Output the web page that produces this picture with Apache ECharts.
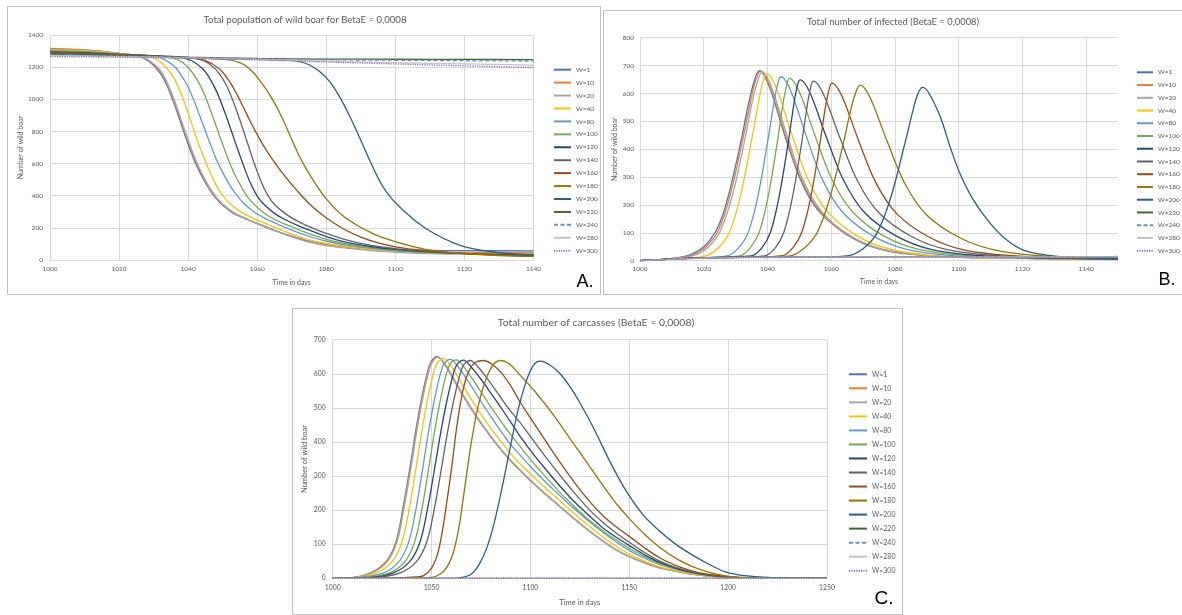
<!DOCTYPE html>
<html><head><meta charset="utf-8">
<script src="https://cdn.jsdelivr.net/npm/echarts@6/dist/echarts.min.js"></script>
<style>html,body{margin:0;padding:0;background:#fff}#c{width:1182px;height:615px}</style>
</head><body><div id="c"></div>
<script>
// ---------- categories / labels ----------
const seriesNames = ['W=1','W=10','W=20','W=40','W=80','W=100','W=120','W=140','W=160','W=180','W=200','W=220','W=240','W=280','W=300'];
const titleA = 'Total population of wild boar for BetaE = 0,0008';
const titleB = 'Total number of infected (BetaE = 0,0008)';
const titleC = 'Total number of carcasses (BetaE = 0,0008)';
const xName = 'Time in days';
const yName = 'Number of wild boar';

// ---------- Panel A: total population ----------
const popW1 = [[1000,1312],[1010,1306],[1020,1285],[1026,1265],[1029,1230],[1032,1160],[1034,1080],[1036,970],[1038,845],[1040,720],[1042,610],[1044,520],[1046,445],[1048,385],[1050,340],[1053,292],[1056,262],[1060,228],[1065,185],[1070,148],[1075,118],[1080,98],[1090,76],[1100,64],[1110,60],[1120,58],[1140,57]];
const popW10 = [[1000,1316],[1010,1307],[1020,1286],[1026,1266],[1029,1235],[1032,1170],[1034,1092],[1036,985],[1038,860],[1040,735],[1042,622],[1044,530],[1046,452],[1048,390],[1050,344],[1053,295],[1056,263],[1060,226],[1065,182],[1070,145],[1075,114],[1080,94],[1090,70],[1100,56],[1110,50],[1120,48],[1140,47]];
const popW20 = [[1000,1309],[1010,1302],[1020,1284],[1026,1266],[1029,1238],[1032,1178],[1034,1100],[1036,995],[1038,872],[1040,748],[1042,632],[1044,538],[1046,458],[1048,395],[1050,348],[1053,298],[1056,265],[1060,228],[1065,183],[1070,144],[1075,112],[1080,90],[1090,64],[1100,48],[1110,40],[1120,36],[1140,34]];
const popW40 = [[1000,1306],[1010,1301],[1020,1284],[1029,1262],[1032,1232],[1035,1162],[1037,1085],[1039,975],[1041,850],[1043,725],[1045,615],[1047,515],[1049,432],[1051,376],[1053,335],[1056,290],[1059,258],[1063,222],[1068,178],[1073,140],[1078,111],[1083,91],[1093,67],[1103,52],[1113,44],[1125,40],[1140,38]];
const popW80 = [[1000,1301],[1010,1297],[1020,1283],[1030,1268],[1033,1248],[1036,1205],[1038,1150],[1040,1075],[1042,975],[1044,860],[1046,745],[1048,635],[1050,545],[1052,468],[1054,405],[1056,355],[1059,300],[1062,262],[1066,222],[1071,178],[1076,140],[1081,112],[1086,92],[1095,68],[1105,50],[1120,40],[1140,36]];
const popW100 = [[1000,1298],[1010,1293],[1020,1281],[1030,1270],[1035,1258],[1038,1235],[1040.5,1185],[1042.5,1125],[1044.5,1040],[1046.5,930],[1048.5,810],[1050.5,690],[1052.5,580],[1054.5,490],[1056.5,415],[1058.5,360],[1061.5,300],[1064.5,258],[1069,215],[1074,172],[1079,135],[1084,108],[1090,86],[1100,62],[1110,48],[1125,38],[1140,34]];
const popW120 = [[1000,1295],[1010,1290],[1020,1280],[1030,1271],[1038,1258],[1041,1240],[1044,1195],[1046,1140],[1048,1060],[1050,955],[1052,835],[1054,710],[1056,590],[1058,480],[1060,398],[1062,345],[1065,290],[1068,252],[1072,212],[1077,170],[1082,132],[1087,105],[1093,84],[1100,66],[1110,50],[1125,36],[1140,30]];
const popW140 = [[1000,1290],[1010,1286],[1020,1278],[1030,1270],[1040,1260],[1044,1245],[1047,1205],[1049,1160],[1051,1090],[1053,990],[1055,870],[1057,740],[1059,610],[1061,495],[1063,405],[1065,345],[1068,290],[1071,250],[1075,208],[1080,165],[1085,130],[1090,104],[1096,82],[1105,60],[1115,45],[1130,32],[1140,28]];
const popW160 = [[1000,1288],[1010,1283],[1020,1276],[1030,1268],[1040,1258],[1045,1240],[1049,1190],[1052,1110],[1054,1035],[1056,950],[1058,862],[1060,780],[1062,705],[1064,638],[1066,578],[1068,522],[1070,470],[1072,420],[1075,352],[1078,295],[1081,247],[1085,193],[1090,142],[1095,106],[1100,82],[1108,60],[1120,40],[1140,25]];
const popW180 = [[1000,1285],[1010,1280],[1020,1274],[1030,1266],[1040,1258],[1050,1250],[1055,1228],[1058,1185],[1061,1110],[1064,1015],[1067,895],[1070,750],[1072,655],[1074,575],[1077,470],[1080,380],[1084,290],[1089,215],[1094,160],[1099,120],[1104,90],[1110,62],[1120,40],[1130,28],[1140,22]];
const popW200 = [[1000,1282],[1010,1278],[1020,1272],[1030,1265],[1040,1258],[1050,1252],[1060,1248],[1068,1244],[1072,1236],[1075,1215],[1078,1175],[1081,1110],[1084,1010],[1087,885],[1090,745],[1093,600],[1096,470],[1099,380],[1102,315],[1106,240],[1111,168],[1117,105],[1122,72],[1130,45],[1140,30]];
const popW220 = [[1000,1280],[1020,1272],[1040,1262],[1060,1254],[1080,1250],[1100,1249],[1120,1248],[1140,1247]];
const popW240 = [[1000,1277],[1020,1268],[1040,1260],[1060,1252],[1080,1246],[1100,1243],[1120,1240],[1140,1238]];
const popW280 = [[1000,1272],[1020,1265],[1040,1258],[1060,1248],[1080,1238],[1100,1228],[1120,1220],[1140,1213]];
const popW300 = [[1000,1265],[1020,1262],[1040,1255],[1060,1245],[1080,1232],[1100,1220],[1120,1208],[1140,1197]];

// ---------- Panel B: infected ----------
const infW1 = [[1000,0],[1008,5],[1015,18],[1018,34],[1020,50],[1022,75],[1024,110],[1026,165],[1028,245],[1030,340],[1032,445],[1034,560],[1036,650],[1037.5,682],[1039,665],[1041,612],[1043,540],[1045,465],[1047,395],[1050,300],[1053,230],[1056,180],[1060,135],[1065,92],[1070,62],[1075,42],[1080,30],[1090,18],[1100,12],[1120,8],[1150,5]];
const infW10 = [[1000,0],[1008,5],[1015.8,18],[1020.7,50],[1024.6,109],[1028.5,244],[1032.4,443],[1034.9,581],[1036.3,648],[1037.8,680],[1039.3,663],[1041.3,610],[1045.3,464],[1050.3,299],[1056.3,180],[1065.3,92],[1075.3,42],[1090.3,18],[1110,10],[1150,5]];
const infW20 = [[1000,0],[1008,4],[1016.7,18],[1021.5,49],[1025.3,109],[1029.2,243],[1033.0,441],[1035.4,579],[1036.9,645],[1038.3,677],[1039.8,660],[1041.8,607],[1045.8,462],[1050.8,298],[1056.8,179],[1065.8,91],[1075.8,42],[1090.8,18],[1110,10],[1150,5]];
const infW40 = [[1000,0],[1010,6],[1015,10],[1020.7,17],[1024.9,49],[1028.3,108],[1031.7,241],[1035.1,437],[1037.3,574],[1038.5,639],[1039.8,671],[1041.3,654],[1043.4,602],[1047.5,458],[1052.6,295],[1058.7,177],[1067.9,91],[1078.1,42],[1093.4,17],[1110,10],[1150,5]];
const infW80 = [[1000,0],[1010,6],[1020,11],[1027.3,17],[1031.1,48],[1034.1,106],[1037.1,237],[1040.1,430],[1042.0,564],[1043.1,629],[1044.2,660],[1045.8,644],[1047.9,592],[1052.1,450],[1057.3,290],[1063.6,174],[1073.1,89],[1083.6,41],[1099.3,17],[1115,10],[1150,6]];
const infW100 = [[1000,0],[1010,6],[1020,10],[1026,13],[1031.2,17],[1034.7,48],[1037.5,105],[1040.3,235],[1043.1,426],[1044.8,559],[1045.9,623],[1046.9,654],[1048.5,638],[1050.7,587],[1055.0,446],[1060.4,288],[1066.9,173],[1076.6,88],[1087.4,41],[1103.6,17],[1120,10],[1150,6]];
const infW120 = [[1000,0],[1010,6],[1020,10],[1028,13],[1034.9,17],[1038.3,47],[1041.0,104],[1043.7,233],[1046.5,423],[1048.2,555],[1049.2,618],[1050.2,649],[1051.9,633],[1054.1,582],[1058.5,443],[1064.0,286],[1070.6,171],[1080.5,88],[1091.5,40],[1108.0,17],[1125,10],[1150,6]];
const infW140 = [[1000,0],[1010,6],[1020,10],[1032,13],[1039.1,17],[1042.5,47],[1045.2,104],[1047.9,231],[1050.7,420],[1052.4,551],[1053.4,614],[1054.4,644],[1056.1,628],[1058.3,578],[1062.8,439],[1068.4,283],[1075.1,170],[1085.2,87],[1096.4,40],[1113.2,17],[1130,10],[1150,7]];
const infW160 = [[1000,0],[1010,6],[1020,10],[1035,13],[1044.5,17],[1048.0,47],[1050.8,103],[1053.6,229],[1056.4,415],[1058.1,545],[1059.2,607],[1060.2,637],[1061.9,621],[1064.1,571],[1068.5,434],[1074.0,280],[1080.6,168],[1090.5,86],[1101.5,39],[1118.0,17],[1135,10],[1150,8]];
const infW180 = [[1000,0],[1010,6],[1020,10],[1035,13],[1046.6,16],[1051.6,46],[1055.6,101],[1059.6,226],[1063.6,411],[1066.1,539],[1067.6,600],[1069.1,630],[1070.8,614],[1073.0,565],[1077.5,430],[1083.1,277],[1089.8,166],[1099.9,85],[1111.1,39],[1127.9,16],[1150,10]];
const infW200 = [[1000,0],[1010,6],[1020,10],[1040,13],[1060,14],[1065.0,17],[1070.2,45],[1074.4,100],[1078.6,223],[1082.8,406],[1085.5,532],[1087.0,593],[1088.6,622],[1090.4,606],[1094.2,517],[1097.3,409],[1100.4,313],[1104.6,218],[1109.9,134],[1115.1,74],[1120.3,38],[1127.6,20],[1135,12],[1150,8]];
const infW220 = [[1000,0],[1010,6],[1020,10],[1035,12],[1060,13],[1100,14],[1150,14]];
const infW240 = [[1000,0],[1010,6],[1020,10],[1035,12],[1060,13],[1100,14],[1150,15]];
const infW280 = [[1000,0],[1010,5],[1020,9],[1035,12],[1060,13],[1100,13],[1150,14]];
const infW300 = [[1000,0],[1010,5],[1020,9],[1035,11],[1060,12],[1100,13],[1150,13]];

// ---------- Panel C: carcasses ----------
const carW1 = [[1000,0],[1010,2],[1019,15],[1027,49],[1032,107],[1035.5,205],[1039,322],[1042.5,450],[1046,557],[1049,626],[1051,645],[1052.8,650],[1057,625],[1061,585],[1066,535],[1072,480],[1078,430],[1084,385],[1090,345],[1095,315],[1100,287],[1105,260],[1112,225],[1120,185],[1128,147],[1137,108],[1145,78],[1154,54],[1162,37],[1171,24],[1179,15],[1188,8],[1196,4],[1205,2],[1220,1],[1250,0]];
const carW10 = [[1000,0],[1010,2],[1019,15],[1027,48],[1032.2,106],[1035.7,204],[1039.2,321],[1042.7,449],[1046.2,556],[1049.2,625],[1051.2,644],[1053,649],[1057.2,624],[1061.2,584],[1066.2,534],[1072.2,479],[1078.2,429],[1084.2,384],[1090.2,344],[1095.2,314],[1100.2,286],[1105.2,259],[1112.2,224],[1120.2,184],[1128.2,146],[1137.2,107],[1145.2,77],[1154.2,53],[1162.2,36],[1171.2,23],[1179.2,14],[1188.2,8],[1196.2,4],[1205.2,2],[1222,1],[1250,0]];
const carW20 = [[1000,0],[1010,2],[1019.5,14],[1027.5,48],[1032.5,106],[1036,204],[1039.5,321],[1043,448],[1046.5,555],[1049.5,624],[1051.5,643],[1053.3,648],[1057.5,623],[1061.5,583],[1066.5,533],[1072.5,478],[1078.5,428],[1084.5,383],[1090.5,343],[1095.5,313],[1100.5,285],[1105.5,258],[1112.5,223],[1120.5,183],[1128.5,145],[1137.5,106],[1145.5,77],[1154.5,53],[1162.5,36],[1171.5,23],[1179.5,14],[1188.5,8],[1196.5,4],[1205.5,2],[1225,1],[1250,0]];
const carW40 = [[1000,0],[1010,1],[1022,15],[1030,48],[1035,106],[1038.7,203],[1042,319],[1045.5,446],[1049,553],[1052,621],[1054,640],[1056,645],[1060,622],[1064,584],[1069,535],[1075,481],[1081,432],[1087,388],[1093,346],[1098,318],[1103,290],[1108,263],[1115,227],[1123,186],[1131,147],[1140,107],[1148,77],[1157,52],[1165,35],[1174,22],[1182,13],[1191,7],[1199,3],[1210,1],[1250,0]];
const carW80 = [[1000,0],[1012,2],[1025.4,15],[1033.4,48],[1038.4,106],[1042.1,202],[1045.4,318],[1048.9,444],[1052.4,550],[1055.4,618],[1057.4,637],[1059.4,642],[1063.5,620],[1068,583],[1073,537],[1079,483],[1085,432],[1090,392],[1095,360],[1100,328],[1106,292],[1113,253],[1120,215],[1128,175],[1136,138],[1143,108],[1150,82],[1158,58],[1166,39],[1175,24],[1184,13],[1192,7],[1200,3],[1210,1],[1250,0]];
const carW100 = [[1000,0],[1015,2],[1028.4,15],[1036.4,48],[1041.4,106],[1045.1,202],[1048.4,317],[1051.9,444],[1055.4,549],[1058.4,617],[1060.4,636],[1062.4,641],[1066.5,619],[1071,582],[1076,538],[1082,486],[1088,437],[1095,385],[1101,342],[1107,302],[1114,258],[1121,217],[1129,174],[1137,138],[1144,110],[1150,88],[1158,63],[1166,42],[1175,26],[1184,14],[1192,7],[1200,3],[1212,1],[1250,0]];
const carW120 = [[1000,0],[1018,2],[1030.4,15],[1038.8,48],[1044.1,106],[1047.9,202],[1051.4,317],[1055.1,443],[1058.8,548],[1061.9,616],[1064,635],[1066.1,640],[1070,620],[1075,584],[1080,543],[1086,493],[1092,441],[1095,415],[1101,368],[1108,318],[1115,270],[1122,226],[1130,182],[1137,146],[1144,118],[1150,96],[1158,68],[1166,45],[1175,27],[1184,15],[1193,7],[1202,3],[1214,1],[1250,0]];
const carW140 = [[1000,0],[1020,2],[1033.8,15],[1042.2,48],[1047.5,105],[1051.3,201],[1054.8,316],[1058.5,442],[1062.2,548],[1065.3,615],[1067.4,634],[1069.5,639],[1073.5,620],[1078,587],[1083,547],[1089,498],[1095,455],[1101,408],[1108,354],[1115,302],[1122,252],[1130,200],[1137,162],[1144,130],[1150,106],[1158,75],[1166,49],[1175,29],[1184,16],[1193,8],[1202,3],[1215,1],[1250,0]];
const carW160 = [[1000,0],[1030,1],[1042,4],[1046,8],[1050,30],[1053,70],[1055.5,140],[1058,235],[1060.5,340],[1063,455],[1066,555],[1069,610],[1072,633],[1076.2,639],[1080,630],[1085,605],[1090,565],[1095,515],[1101,462],[1108,400],[1115,340],[1122,283],[1130,225],[1137,182],[1144,148],[1150,123],[1158,88],[1166,58],[1175,34],[1184,18],[1193,9],[1203,3],[1215,1],[1250,0]];
const carW180 = [[1000,0],[1040,1],[1050,3],[1055,15],[1058,35],[1061,75],[1064,155],[1067,275],[1070,395],[1073,490],[1076.5,567],[1080.5,621],[1084.7,639],[1089,630],[1094.8,596],[1103,543],[1111.7,479],[1120,410],[1128.5,340],[1137,270],[1144,215],[1150,175],[1158,128],[1166,88],[1174,57],[1182,34],[1190,18],[1198,8],[1207,3],[1218,1],[1250,0]];
const carW200 = [[1000,0],[1060,0],[1065,2],[1070,12],[1074,40],[1078,90],[1082,170],[1086,275],[1090,390],[1094,500],[1098,580],[1101.5,625],[1104.9,637],[1110,625],[1115,600],[1120,562],[1125,515],[1132,440],[1140,345],[1148,260],[1157,186],[1166,135],[1174,98],[1182,68],[1191,39],[1199,18],[1208,8],[1220,3],[1250,0]];
const carW220 = [[1000,0],[1125,0],[1250,0]];
const carW240 = [[1000,0],[1125,0],[1250,0]];
const carW280 = [[1000,0],[1125,0],[1250,0]];
const carW300 = [[1000,0],[1125,0],[1250,0]];

const popSeries = [popW1,popW10,popW20,popW40,popW80,popW100,popW120,popW140,popW160,popW180,popW200,popW220,popW240,popW280,popW300];
const infSeries = [infW1,infW10,infW20,infW40,infW80,infW100,infW120,infW140,infW160,infW180,infW200,infW220,infW240,infW280,infW300];
const carSeries = [carW1,carW10,carW20,carW40,carW80,carW100,carW120,carW140,carW160,carW180,carW200,carW220,carW240,carW280,carW300];

// ---------- styles ----------
const lineColors = ['#4472C4','#ED7D31','#A5A5A5','#FFC000','#5B9BD5','#70AD47','#264478','#636363','#9E480E','#997300','#255E91','#43682B','#698ED0','#C4C4C4','#8E6BBF'];
const lineTypes = ['solid','solid','solid','solid','solid','solid','solid','solid','solid','solid','solid','solid',[4,2.5],'solid',[1.2,1.2]];
const FONT = 'Lato, "Open Sans", sans-serif';
const TXT = '#595959';
const GRIDC = '#D9D9D9';
const plain = v => String(v);

function makeSeries(list, gi) {
  return list.map((d, i) => ({
    name: seriesNames[i], type: 'line', xAxisIndex: gi, yAxisIndex: gi,
    data: d, symbol: 'none', showSymbol: false, smooth: 0.35,
    lineStyle: { color: lineColors[i], width: 1.3, type: lineTypes[i] },
    itemStyle: { color: lineColors[i] },
    emphasis: { disabled: true }, silent: true, animation: false
  }));
}
function xAx(gi, min, max, interval, fs, margin, nameGap, nfs, hideMax) {
  return {
    gridIndex: gi, type: 'value', min, max, interval,
    axisLine: { show: true, lineStyle: { color: GRIDC } },
    axisTick: { show: false },
    axisLabel: { fontSize: fs, color: TXT, margin, fontFamily: FONT, formatter: plain, showMaxLabel: !hideMax },
    splitLine: { show: true, showMaxLine: !hideMax, lineStyle: { color: GRIDC, width: 1 } },
    name: xName, nameLocation: 'middle', nameGap,
    nameTextStyle: { fontSize: nfs, color: TXT, fontFamily: FONT }
  };
}
function yAx(gi, max, interval, fs, margin, nameGap, nfs) {
  return {
    gridIndex: gi, type: 'value', min: 0, max, interval,
    axisLine: { show: false }, axisTick: { show: false },
    axisLabel: { fontSize: fs, color: TXT, margin, fontFamily: FONT, formatter: plain },
    splitLine: { show: true, lineStyle: { color: GRIDC, width: 1 } },
    name: yName, nameLocation: 'middle', nameGap, nameRotate: 90,
    nameTextStyle: { fontSize: nfs, color: TXT, fontFamily: FONT }
  };
}
function leg(left, top, iw, gap, fs) {
  return {
    orient: 'vertical', left, top, padding: 0, itemWidth: iw, itemHeight: 8, itemGap: gap,
    selectedMode: false, data: seriesNames,
    itemStyle: { opacity: 0 },
    textStyle: { fontSize: fs, color: TXT, fontFamily: FONT, lineHeight: 8, overflow: 'none', width: 40 }
  };
}
function txt(x, y, text, fs, color, family) {
  return { type: 'text', x, y, silent: true,
    style: { text, fontSize: fs, fill: color, fontFamily: family || FONT, textAlign: 'center', textVerticalAlign: 'middle' } };
}
function frame(x, y, w, h) {
  return { type: 'rect', silent: true, shape: { x, y, width: w, height: h },
    style: { fill: 'none', stroke: '#BFBFBF', lineWidth: 1 } };
}

const chart = echarts.init(document.getElementById('c'), null, { renderer: 'canvas' });
chart.setOption({
  backgroundColor: '#fff',
  animation: false,
  grid: [
    { left: 50, top: 35, width: 483.5, height: 225 },
    { left: 640, top: 37.7, width: 478, height: 223 },
    { left: 332.7, top: 339.7, width: 494.3, height: 238.6 }
  ],
  xAxis: [
    xAx(0, 1000, 1140, 20, 6.5, 5, 19, 7, false),
    xAx(1, 1000, 1150, 20, 6.5, 5, 18, 7, true),
    xAx(2, 1000, 1250, 50, 6.8, 6, 20, 7.5, false)
  ],
  yAxis: [
    yAx(0, 1400, 200, 6.5, 7, 26, 7),
    yAx(1, 800, 100, 6.5, 6, 22, 7),
    yAx(2, 700, 100, 6.8, 7, 24, 7.5)
  ],
  legend: [
    leg(553, 65.7, 17, 4.93, 6.5),
    leg(1136, 68.3, 16, 4.74, 6.5),
    leg(848, 370.3, 18, 6.03, 7)
  ],
  graphic: [
    frame(7.5, 6.5, 593, 288),
    frame(603.5, 10.5, 590, 284),
    frame(292.5, 308.5, 610, 306),
    txt(305, 19.5, titleA, 9.6, TXT),
    txt(893, 21.7, titleB, 9.4, TXT),
    txt(596, 322.3, titleC, 10.4, TXT),
    txt(585, 282, 'A.', 18, '#000', '"Liberation Sans", Arial, sans-serif'),
    txt(1167, 280, 'B.', 18, '#000', '"Liberation Sans", Arial, sans-serif'),
    txt(884, 599, 'C.', 19, '#000', '"Liberation Sans", Arial, sans-serif')
  ],
  series: [].concat(makeSeries(popSeries, 0), makeSeries(infSeries, 1), makeSeries(carSeries, 2))
});
</script>
</body></html>
